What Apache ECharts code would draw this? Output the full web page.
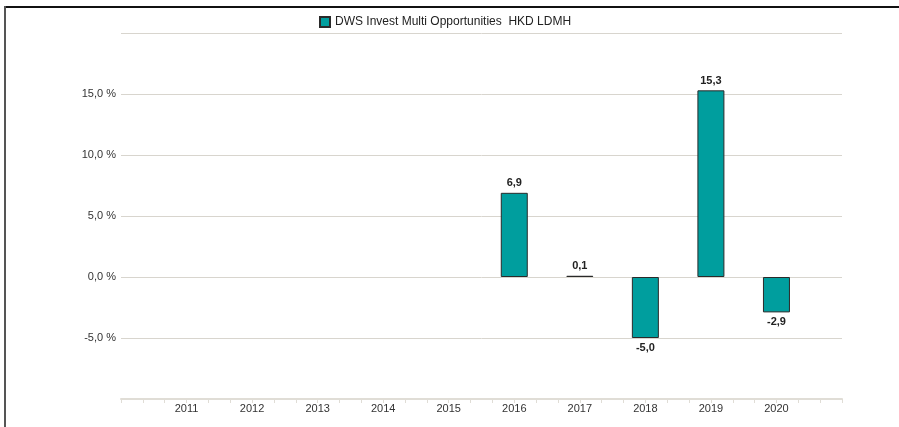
<!DOCTYPE html>
<html>
<head>
<meta charset="utf-8">
<script src="https://cdn.jsdelivr.net/npm/echarts@6/dist/echarts.min.js"></script>
<style>
  html, body { margin: 0; padding: 0; background: #fff; }
  #chart { width: 899px; height: 427px; }
</style>
</head>
<body>
<div id="chart"></div>
<script>
// data
var seriesName = "DWS Invest Multi Opportunities  HKD LDMH";
var years = [2011, 2012, 2013, 2014, 2015, 2016, 2017, 2018, 2019, 2020];
var returns = [null, null, null, null, null, 6.9, 0.1, -5.0, 15.3, -2.9];
var yTicks = [-5, 0, 5, 10, 15];

var font = "'Liberation Sans', Arial, sans-serif";

function fmt(v) {
  return v.toFixed(1).replace(".", ",");
}

var barData = [];
for (var i = 0; i < years.length; i++) {
  if (returns[i] === null) continue;
  barData.push({
    value: [years[i], returns[i]],
    label: { position: returns[i] < 0 ? "bottom" : "top" }
  });
}

var chart = echarts.init(document.getElementById("chart"));
chart.setOption({
  animation: false,
  textStyle: { fontFamily: font },
  graphic: [
    { type: "rect", shape: { x: 4, y: 6, width: 895, height: 2 }, style: { fill: "#111" } },
    { type: "rect", shape: { x: 4, y: 6, width: 2, height: 421 }, style: { fill: "#555" } }
  ],
  legend: {
    top: 11,
    left: 314,
    itemWidth: 10,
    itemHeight: 10,
    itemGap: 6,
    textStyle: { color: "#222", fontSize: 12, fontFamily: font },
    data: [{ name: seriesName, icon: "rect" }]
  },
  grid: { left: 121, right: 57, top: 33, bottom: 28 },
  xAxis: {
    type: "value",
    min: 2010,
    max: 2021,
    interval: 1,
    axisLine: { show: true, onZero: false, lineStyle: { color: "#e0ddd6", width: 2 } },
    axisTick: { show: true, length: 4, lineStyle: { color: "#e0ddd6" } },
    minorTick: { show: true, splitNumber: 3, length: 4, lineStyle: { color: "#e0ddd6" } },
    splitLine: { show: false },
    axisLabel: {
      color: "#333",
      fontSize: 11,
      margin: 4,
      fontFamily: font,
      formatter: function (v) {
        return years.indexOf(v) >= 0 ? String(v) : "";
      }
    }
  },
  yAxis: {
    type: "value",
    min: -10,
    max: 20,
    interval: 5,
    axisLine: { show: false },
    axisTick: { show: false },
    splitLine: { lineStyle: { color: "#d8d5ce", width: 1 } },
    axisLabel: {
      color: "#333",
      fontSize: 11,
      margin: 5,
      fontFamily: font,
      formatter: function (v) {
        return yTicks.indexOf(v) >= 0 ? fmt(v) + " %" : "";
      }
    }
  },
  series: [
    {
      name: seriesName,
      type: "bar",
      barWidth: 27,
      data: barData,
      itemStyle: { color: "#009e9e", borderColor: "#2a2a2a", borderWidth: 1 },
      label: {
        show: true,
        color: "#222",
        fontSize: 11,
        fontWeight: "bold",
        distance: 4,
        fontFamily: font,
        formatter: function (p) {
          return fmt(p.value[1]);
        }
      }
    }
  ]
});
</script>
</body>
</html>
